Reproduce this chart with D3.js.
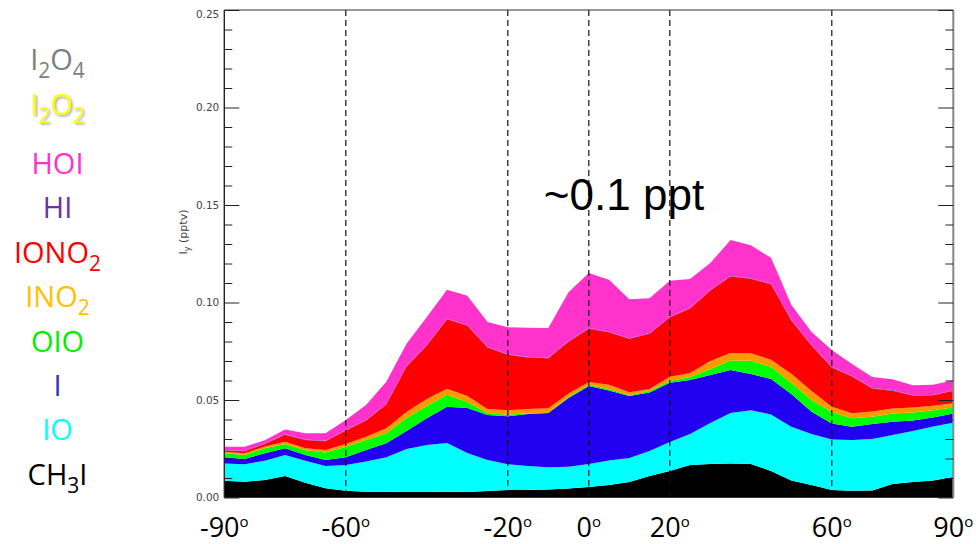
<!DOCTYPE html>
<html>
<head>
<meta charset="utf-8">
<script src="https://cdn.jsdelivr.net/npm/d3@7"></script>
<style>
  html, body { margin: 0; padding: 0; background: #ffffff; }
  svg { display: block; }
</style>
</head>
<body>
<svg id="chart" width="976" height="544"></svg>
<script>
// Zonal mean iodine partitioning (Iy, pptv) by latitude
const latitudes = [-90,-85,-80,-75,-70,-65,-60,-55,-50,-45,-40,-35,-30,-25,-20,-15,-10,-5,
                   0,5,10,15,20,25,30,35,40,45,50,55,60,65,70,75,80,85,90];

const ch3i  = [.0086,.0081,.0090,.0110,.0076,.0047,.0035,.0030,.0030,
               .0028,.0028,.0030,.0028,.0033,.0038,.0038,.0041,.0046,
               .0054,.0064,.0079,.0110,.0136,.0167,.0172,.0175,.0172,
               .0136,.0087,.0064,.0038,.0035,.0036,.0069,.0079,.0087,.0105];
const io    = [.0089,.0089,.0099,.0108,.0113,.0114,.0132,.0154,.0176,
               .0221,.0241,.0250,.0200,.0159,.0133,.0123,.0114,.0112,
               .0118,.0126,.0123,.0128,.0149,.0159,.0210,.0258,.0275,
               .0290,.0276,.0262,.0260,.0260,.0264,.0251,.0262,.0277,.0278];
const iAtom = [.0031,.0027,.0038,.0034,.0029,.0031,.0039,.0060,.0072,
               .0092,.0138,.0185,.0231,.0231,.0246,.0267,.0278,.0352,
               .0400,.0359,.0318,.0300,.0303,.0277,.0246,.0221,.0186,
               .0182,.0168,.0114,.0082,.0068,.0077,.0068,.0054,.0046,.0048];
const oio   = [.0021,.0021,.0026,.0022,.0024,.0039,.0054,.0051,.0051,
               .0067,.0062,.0062,.0031,.0010,.0008,.0003,.0002,.0005,
               .0005,.0008,.0005,.0008,.0010,.0015,.0031,.0048,.0068,
               .0062,.0058,.0060,.0059,.0043,.0037,.0043,.0041,.0038,.0031];
const ino2  = [.0008,.0009,.0008,.0012,.0010,.0012,.0014,.0017,.0026,
               .0031,.0036,.0031,.0031,.0021,.0023,.0023,.0023,.0018,
               .0015,.0021,.0015,.0010,.0021,.0021,.0041,.0039,.0039,
               .0036,.0045,.0046,.0026,.0026,.0027,.0025,.0026,.0023,.0021];
const iono2 = [.0006,.0010,.0014,.0036,.0043,.0045,.0069,.0083,.0122,
               .0233,.0274,.0356,.0361,.0315,.0284,.0264,.0256,.0266,
               .0274,.0269,.0274,.0284,.0305,.0330,.0361,.0392,.0382,
               .0387,.0274,.0233,.0202,.0188,.0118,.0092,.0061,.0053,.0065];
const hi    = [.0002,.0002,.0002,.0003,.0003,.0003,.0003,.0003,.0003,
               .0003,.0003,.0003,.0003,.0003,.0003,.0003,.0003,.0003,
               .0003,.0003,.0003,.0003,.0003,.0003,.0003,.0003,.0003,
               .0003,.0003,.0003,.0003,.0003,.0003,.0003,.0002,.0002,.0002];
const hoi   = [.0017,.0021,.0017,.0024,.0031,.0038,.0051,.0077,.0114,
               .0113,.0144,.0149,.0149,.0128,.0138,.0149,.0152,.0251,
               .0282,.0267,.0200,.0179,.0185,.0149,.0138,.0185,.0169,
               .0133,.0077,.0067,.0086,.0062,.0056,.0056,.0051,.0052,.0051];
const i2o2  = [0,0,0,0,0,0,0,0,0,0,0,0,0,0,0,0,0,0,0,0,0,0,0,0,0,0,0,0,0,0,0,0,0,0,0,0,0];
const i2o4  = [0,0,0,0,0,0,0,0,0,0,0,0,0,0,0,0,0,0,0,0,0,0,0,0,0,0,0,0,0,0,0,0,0,0,0,0,0];

// Stack order, bottom to top
const speciesKeys   = ["CH3I","IO","I","OIO","INO2","IONO2","HI","HOI","I2O2","I2O4"];
const speciesValues = [ch3i, io, iAtom, oio, ino2, iono2, hi, hoi, i2o2, i2o4];
const fillColors    = ["#000000","#00ffff","#2200f0","#00ff00","#ff9900","#ff0000","#7a2fc8","#ff33cc","#ffff00","#808080"];

// Legend, top to bottom ("_" marks a subscript digit)
const legendNames  = ["I_2O_4","I_2O_2","HOI","HI","IONO_2","INO_2","OIO","I","IO","CH_3I"];
const legendColors = ["#808080","#ffff00","#ff33cc","#7030a0","#ff0000","#ffc000","#00ee00","#3333cc","#00ffff","#000000"];

const xTickValues = [-90,-60,-20,0,20,60,90];
const yTickValues = [0, 0.05, 0.10, 0.15, 0.20, 0.25];
const yMinorValues = [0.01,0.02,0.03,0.04,0.06,0.07,0.08,0.09,0.11,0.12,0.13,0.14,
                      0.16,0.17,0.18,0.19,0.21,0.22,0.23,0.24];
const dashedLats = [-60,-20,0,20,60];
const annotation = "~0.1 ppt";
const yTitle = "I";
const yTitleSub = "y";
const yTitleRest = " (pptv)";

const svg = d3.select("#chart");
const plot = { left: 224.3, right: 953.3, top: 10, bottom: 497.5 };

const x = d3.scaleLinear().domain([-90, 90]).range([plot.left, plot.right]);
const y = d3.scaleLinear().domain([0, 0.25]).range([plot.bottom, plot.top]);

const rows = latitudes.map((lat, i) => {
  const r = { lat };
  speciesKeys.forEach((k, j) => { r[k] = speciesValues[j][i]; });
  return r;
});

const series = d3.stack().keys(speciesKeys)(rows);

const area = d3.area()
  .x(d => x(d.data.lat))
  .y0(d => y(d[0]))
  .y1(d => y(d[1]))
  .curve(d3.curveLinear);

svg.append("g")
  .selectAll("path")
  .data(series)
  .join("path")
  .attr("d", area)
  .attr("fill", (d, i) => fillColors[i])
  .attr("stroke", "none");

// Latitude guide lines
svg.append("g")
  .selectAll("line")
  .data(dashedLats)
  .join("line")
  .attr("x1", d => x(d)).attr("x2", d => x(d))
  .attr("y1", plot.top).attr("y2", plot.bottom)
  .attr("stroke", "#111")
  .attr("stroke-width", 1.2)
  .attr("stroke-dasharray", "6,4");

// Frame
svg.append("line").attr("x1", plot.left).attr("x2", plot.right).attr("y1", plot.top).attr("y2", plot.top)
  .attr("stroke", "#333").attr("stroke-width", 1.2);
svg.append("line").attr("x1", plot.left).attr("x2", plot.right).attr("y1", plot.bottom).attr("y2", plot.bottom)
  .attr("stroke", "#333").attr("stroke-width", 1.2);
svg.append("line").attr("x1", plot.left).attr("x2", plot.left).attr("y1", plot.top).attr("y2", plot.bottom)
  .attr("stroke", "#222").attr("stroke-width", 1.4);
svg.append("line").attr("x1", plot.right).attr("x2", plot.right).attr("y1", plot.top).attr("y2", plot.bottom)
  .attr("stroke", "#888").attr("stroke-width", 2);

// Left axis: major ticks with labels, ticks pointing into the plot
const leftMajor = svg.append("g")
  .attr("transform", `translate(${plot.left},0)`)
  .call(d3.axisLeft(y).tickValues(yTickValues).tickSize(-15).tickPadding(5).tickFormat(d3.format(".2f")));
leftMajor.select(".domain").remove();
leftMajor.selectAll("line").attr("stroke", "#222");
leftMajor.selectAll("text").attr("font-family", "DejaVu Sans, sans-serif").attr("font-size", 10.5).attr("fill", "#444");
leftMajor.selectAll(".tick").filter(d => d === 0.25).select("text").attr("dy", "0.75em");

const leftMinor = svg.append("g")
  .attr("transform", `translate(${plot.left},0)`)
  .call(d3.axisLeft(y).tickValues(yMinorValues).tickSize(-8).tickFormat(""));
leftMinor.select(".domain").remove();
leftMinor.selectAll("line").attr("stroke", "#222");

// Right axis: ticks only
const rightMajor = svg.append("g")
  .attr("transform", `translate(${plot.right},0)`)
  .call(d3.axisRight(y).tickValues(yTickValues).tickSize(-15).tickFormat(""));
rightMajor.select(".domain").remove();
rightMajor.selectAll("line").attr("stroke", "#222");
const rightMinor = svg.append("g")
  .attr("transform", `translate(${plot.right},0)`)
  .call(d3.axisRight(y).tickValues(yMinorValues).tickSize(-8).tickFormat(""));
rightMinor.select(".domain").remove();
rightMinor.selectAll("line").attr("stroke", "#222");

// Y axis title
const yt = svg.append("text")
  .attr("transform", `translate(187,232) rotate(-90)`)
  .attr("text-anchor", "middle")
  .attr("font-family", "DejaVu Sans, sans-serif")
  .attr("font-size", 11)
  .attr("fill", "#444");
yt.append("tspan").text(yTitle);
yt.append("tspan").attr("dy", 3).attr("font-size", 8).text(yTitleSub);
yt.append("tspan").attr("dy", -3).text(yTitleRest);

// Latitude labels with degree superscript
const xl = svg.append("g")
  .selectAll("text")
  .data(xTickValues)
  .join("text")
  .attr("x", d => x(d))
  .attr("y", 537)
  .attr("text-anchor", "middle")
  .attr("font-family", "Open Sans, sans-serif")
  .attr("font-size", 27)
  .attr("fill", "#000");
xl.append("tspan").text(d => d3.format("d")(d).replace("−", "-"));
xl.append("tspan").attr("dy", -10).attr("font-size", 15).text("o");

// Annotation
svg.append("text")
  .attr("x", 624)
  .attr("y", 210)
  .attr("text-anchor", "middle")
  .attr("font-family", "Liberation Sans, Arial, sans-serif")
  .attr("font-size", 44)
  .attr("fill", "#000")
  .text(annotation);

// Legend
const defs = svg.append("defs");
const glow = defs.append("filter").attr("id", "shadow").attr("x", "-20%").attr("y", "-20%").attr("width", "140%").attr("height", "150%");
glow.append("feDropShadow").attr("dx", 1.5).attr("dy", 1.5).attr("stdDeviation", 1.2)
  .attr("flood-color", "#777").attr("flood-opacity", 0.7);

const legendBaseline = i => (i === 0 ? 70 : i === 1 ? 115 : 174 + (i - 2) * 44.4);

legendNames.forEach((name, i) => {
  const t = svg.append("text")
    .attr("x", 57.5)
    .attr("y", legendBaseline(i))
    .attr("text-anchor", "middle")
    .attr("font-family", "Open Sans, sans-serif")
    .attr("font-size", 29)
    .attr("fill", legendColors[i]);
  if (name === "I_2O_2") t.attr("filter", "url(#shadow)");
  const parts = name.split(/(_\d)/).filter(s => s.length);
  let shifted = false;
  parts.forEach(p => {
    if (p.startsWith("_")) {
      t.append("tspan").attr("dy", 8).attr("font-size", 21).text(p.slice(1));
      shifted = true;
    } else {
      t.append("tspan").attr("dy", shifted ? -8 : 0).text(p);
      shifted = false;
    }
  });
});
</script>
</body>
</html>
